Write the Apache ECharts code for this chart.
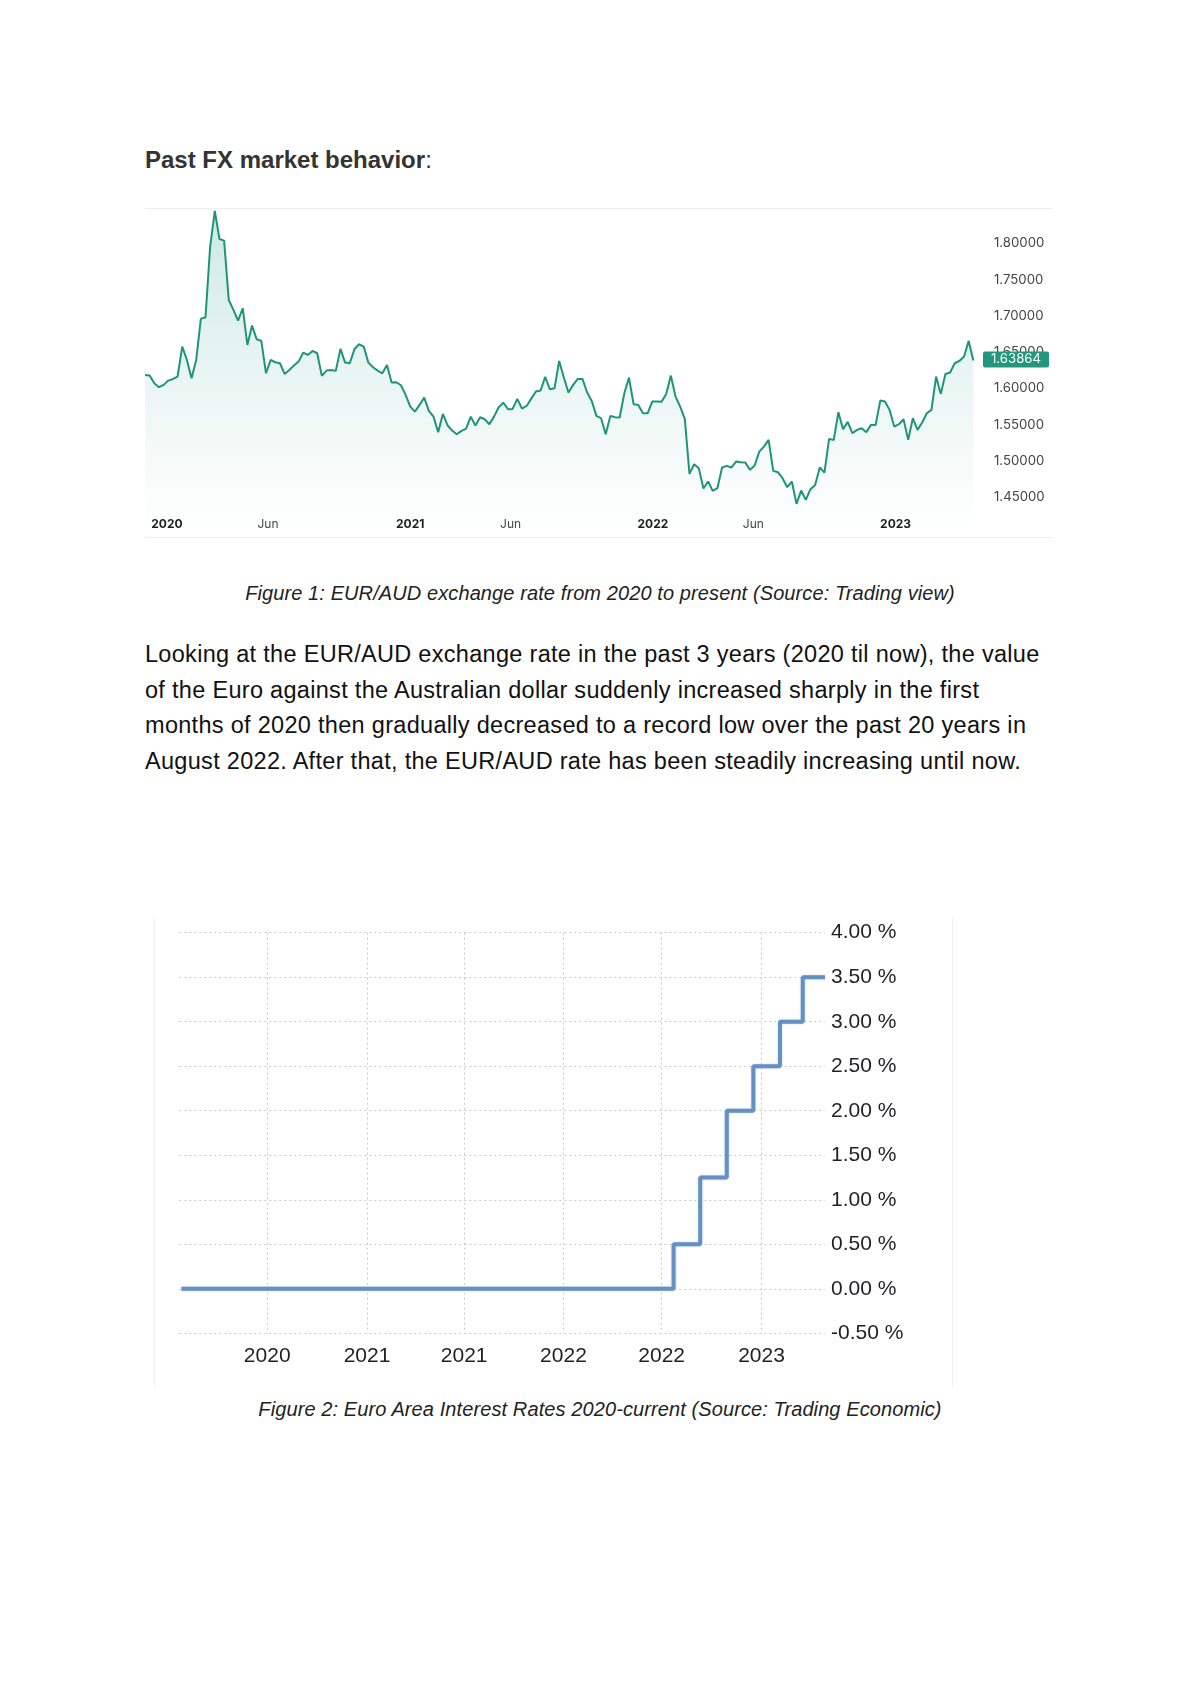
<!DOCTYPE html>
<html>
<head>
<meta charset="utf-8">
<script src="https://cdn.jsdelivr.net/npm/echarts@6/dist/echarts.min.js"></script>
<style>
  html, body { margin:0; padding:0; background:#fff; }
  body { width:1200px; height:1697px; position:relative; overflow:hidden; font-family:'Liberation Sans', Arial, sans-serif; }
  .t { position:absolute; white-space:nowrap; }
  #title { left:145px; top:146px; font-size:24px; line-height:28px; font-weight:bold; color:#333; }
  #title span { font-weight:normal; }
  .cap { left:0; width:1200px; text-align:center; font-style:italic; font-size:20px; line-height:24px; letter-spacing:0.1px; color:#222; }
  #cap1 { top:581px; }
  #cap2 { top:1397px; }
  #para { left:145px; top:637px; font-size:23.5px; line-height:35.7px; letter-spacing:0.3px; color:#111; }
  #c1 { position:absolute; left:145px; top:200px; width:908px; height:345px; }
  .hb { position:absolute; left:145px; width:908px; height:1px; background:#eceef1; }
  #c2 { position:absolute; left:154px; top:918px; width:798px; height:470px; }
  .vb { position:absolute; top:917px; width:1px; height:471px; background:#f1f1f1; }
</style>
</head>
<body>
<div id="title" class="t">Past FX market behavior<span>:</span></div>
<div class="hb" style="top:208px"></div>
<div class="hb" style="top:537px"></div>
<div id="c1"></div>
<div id="cap1" class="t cap">Figure 1: EUR/AUD exchange rate from 2020 to present (Source: Trading view)</div>
<div id="para" class="t">Looking at the EUR/AUD exchange rate in the past 3 years (2020 til now), the value<br>of the Euro against the Australian dollar suddenly increased sharply in the first<br>months of 2020 then gradually decreased to a record low over the past 20 years in<br>August 2022. After that, the EUR/AUD rate has been steadily increasing until now.</div>
<div class="vb" style="left:154px"></div>
<div class="vb" style="left:952px"></div>
<div id="c2"></div>
<div id="cap2" class="t cap">Figure 2: Euro Area Interest Rates 2020-current (Source: Trading Economic)</div>

<script>
// ---------- Figure 1 data: EUR/AUD weekly closes ----------
const fxDates = [
 '2019-11-29','2019-12-06','2019-12-13','2019-12-20','2019-12-27',
 '2020-01-03','2020-01-10','2020-01-17','2020-01-24','2020-01-31','2020-02-07','2020-02-14','2020-02-21','2020-02-28',
 '2020-03-06','2020-03-13','2020-03-20','2020-03-27','2020-04-03','2020-04-10','2020-04-17','2020-04-24','2020-05-01',
 '2020-05-08','2020-05-15','2020-05-22','2020-05-29','2020-06-05','2020-06-12','2020-06-19','2020-06-26','2020-07-03',
 '2020-07-10','2020-07-17','2020-07-24','2020-07-31','2020-08-07','2020-08-14','2020-08-21','2020-08-28','2020-09-04',
 '2020-09-11','2020-09-18','2020-09-25','2020-10-02','2020-10-09','2020-10-16','2020-10-23','2020-10-30','2020-11-06',
 '2020-11-13','2020-11-20','2020-11-27','2020-12-04','2020-12-11','2020-12-18','2020-12-25',
 '2021-01-01','2021-01-08','2021-01-15','2021-01-22','2021-01-29','2021-02-05','2021-02-12','2021-02-19','2021-02-26',
 '2021-03-05','2021-03-12','2021-03-19','2021-03-26','2021-04-02','2021-04-09','2021-04-16','2021-04-23','2021-04-30',
 '2021-05-07','2021-05-14','2021-05-21','2021-05-28','2021-06-04','2021-06-11','2021-06-18','2021-06-25','2021-07-02',
 '2021-07-09','2021-07-16','2021-07-23','2021-07-30','2021-08-06','2021-08-13','2021-08-20','2021-08-27','2021-09-03',
 '2021-09-10','2021-09-17','2021-09-24','2021-10-01','2021-10-08','2021-10-15','2021-10-22','2021-10-29','2021-11-05',
 '2021-11-12','2021-11-19','2021-11-26','2021-12-03','2021-12-10','2021-12-17','2021-12-24','2021-12-31',
 '2022-01-07','2022-01-14','2022-01-21','2022-01-28','2022-02-04','2022-02-11','2022-02-18','2022-02-25','2022-03-04',
 '2022-03-11','2022-03-18','2022-03-25','2022-04-01','2022-04-08','2022-04-15','2022-04-22','2022-04-29','2022-05-06',
 '2022-05-13','2022-05-20','2022-05-27','2022-06-03','2022-06-10','2022-06-17','2022-06-24','2022-07-01','2022-07-08',
 '2022-07-15','2022-07-22','2022-07-29','2022-08-05','2022-08-12','2022-08-19','2022-08-26','2022-09-02','2022-09-09',
 '2022-09-16','2022-09-23','2022-09-30','2022-10-07','2022-10-14','2022-10-21','2022-10-28','2022-11-04','2022-11-11',
 '2022-11-18','2022-11-25','2022-12-02','2022-12-09','2022-12-16','2022-12-23','2022-12-30',
 '2023-01-06','2023-01-13','2023-01-20','2023-01-27','2023-02-03','2023-02-10','2023-02-17','2023-02-24','2023-03-03',
 '2023-03-10','2023-03-17','2023-03-24','2023-03-31','2023-04-07','2023-04-14','2023-04-21','2023-04-28'
];
const fxRates = [
 1.6187,1.6177,1.6072,1.6017,1.6049,
 1.6108,1.6131,1.6163,1.6577,1.6393,1.6140,1.6393,1.6958,1.6981,
 1.7954,1.8445,1.8060,1.8037,1.7219,1.7082,1.6935,1.7105,1.6600,
 1.6866,1.6678,1.6655,1.6209,1.6393,1.6361,1.6347,1.6200,1.6255,
 1.6315,1.6370,1.6494,1.6462,1.6517,1.6485,1.6173,1.6246,1.6255,
 1.6242,1.6545,1.6356,1.6347,1.6540,1.6609,1.6577,1.6356,1.6292,
 1.6246,1.6209,1.6324,1.6081,1.6085,1.6044,1.5911,
 1.5750,1.5681,1.5773,1.5874,1.5691,1.5612,1.5397,1.5649,1.5493,
 1.5420,1.5369,1.5415,1.5447,1.5612,1.5489,1.5603,1.5576,1.5507,
 1.5612,1.5741,1.5805,1.5713,1.5718,1.5856,1.5723,1.5759,1.5860,
 1.5957,1.5971,1.6159,1.5989,1.6003,1.6379,1.6150,1.5943,1.6049,
 1.6131,1.6131,1.5948,1.5828,1.5622,1.5590,1.5369,1.5622,1.5603,
 1.5599,1.5934,1.6150,1.5782,1.5773,1.5658,1.5658,1.5819,
 1.5819,1.5815,1.5925,1.6177,1.5888,1.5750,1.5580,1.4823,1.4956,
 1.4901,1.4621,1.4717,1.4589,1.4625,1.4910,1.4933,1.4910,1.4993,
 1.4984,1.4979,1.4878,1.4938,1.5130,1.5199,1.5291,1.4864,1.4846,
 1.4763,1.4639,1.4717,1.4410,1.4593,1.4465,1.4612,1.4671,1.4910,
 1.4841,1.5305,1.5291,1.5672,1.5438,1.5539,1.5383,1.5429,1.5452,
 1.5397,1.5498,1.5498,1.5833,1.5819,1.5704,1.5475,
 1.5507,1.5576,1.5291,1.5590,1.5429,1.5530,1.5658,1.5704,1.6163,
 1.5925,1.6200,1.6219,1.6347,1.6379,1.6439,1.6655,1.63864
];
const fxTickDates = ['2020-01-01','2020-06-01','2021-01-01','2021-06-01','2022-01-01','2022-06-01','2023-01-01'];
const fxTickLabels = ['2020','Jun','2021','Jun','2022','Jun','2023'];
const fxAxisRange = ['2019-11-29','2023-05-05'];

// ---------- Figure 2 data: Euro area interest rate ----------
const rateDates  = ['2020-02-01','2022-07-27','2022-09-14','2022-11-02','2022-12-21','2023-02-08','2023-03-22','2023-05-02'];
const rateValues = [0, 0.5, 1.25, 2.0, 2.5, 3.0, 3.5, 3.5];
const rateTickDates  = ['2020-07-08','2021-01-08','2021-07-06','2022-01-05','2022-07-05','2023-01-05'];
const rateTickLabels = ['2020','2021','2021','2022','2022','2023'];
const rateAxisRange = ['2020-01-28','2023-05-02'];

function ts(s) { const p = s.split('-').map(Number); return Date.UTC(p[0], p[1] - 1, p[2]); }

// ---------- Chart 1 ----------
const c1 = echarts.init(document.getElementById('c1'), null, {renderer: 'canvas'});
const fxTickTs = fxTickDates.map(ts);
const lastRate = fxRates[fxRates.length - 1];
c1.setOption({
  animation: false,
  grid: { left: 0, top: 7, width: 833, height: 326.6, containLabel: false },
  xAxis: {
    type: 'value',
    min: ts(fxAxisRange[0]), max: ts(fxAxisRange[1]),
    axisLine: { show: false }, axisTick: { show: false }, splitLine: { show: false },
    axisLabel: {
      inside: true, margin: 3,
      customValues: fxTickTs,
      fontFamily: 'Inter', fontSize: 12, color: '#444',
      formatter: function (v) {
        const i = fxTickTs.indexOf(v);
        const lab = i >= 0 ? fxTickLabels[i] : '';
        return /^\d{4}$/.test(lab) ? '{b|' + lab + '}' : lab;
      },
      rich: { b: { fontFamily: 'Inter', fontSize: 12, fontWeight: 'bold', color: '#1e1e1e' } }
    }
  },
  yAxis: {
    type: 'value', position: 'right',
    min: 1.40, max: 1.85, interval: 0.05,
    axisLine: { show: false }, axisTick: { show: false }, splitLine: { show: false },
    axisLabel: {
      margin: 16, showMinLabel: false, showMaxLabel: false,
      fontFamily: 'Inter', fontSize: 13.2, color: '#444',
      formatter: v => v.toFixed(5)
    }
  },
  series: [{
    type: 'line',
    data: fxDates.map((d, i) => [ts(d), fxRates[i]]),
    showSymbol: false,
    lineStyle: { color: '#1f9577', width: 2 },
    itemStyle: { color: '#1f9577' },
    areaStyle: {
      origin: 'start',
      color: new echarts.graphic.LinearGradient(0, 0, 0, 1, [
        { offset: 0, color: 'rgba(40,160,130,0.32)' },
        { offset: 0.55, color: 'rgba(40,160,130,0.13)' },
        { offset: 1, color: 'rgba(40,160,130,0.0)' }
      ])
    },
    markLine: {
      silent: true, symbol: 'none',
      lineStyle: { color: 'transparent', width: 0 },
      data: [{ yAxis: lastRate }],
      label: {
        position: 'end', distance: 5,
        formatter: () => lastRate.toFixed(5),
        backgroundColor: '#22977b', color: '#fff', borderRadius: 2,
        padding: [2, 8, 1, 8], fontFamily: 'Inter', fontSize: 13.2
      }
    }
  }]
});

// ---------- Chart 2 ----------
const c2 = echarts.init(document.getElementById('c2'), null, {renderer: 'canvas'});
const rateTickTs = rateTickDates.map(ts);
const dotted = { show: true, lineStyle: { color: '#c9c9c9', width: 1, type: [2, 3] } };
c2.setOption({
  animation: false,
  grid: { left: 25.3, top: 14.7, width: 645.7, height: 400.6, containLabel: false },
  xAxis: {
    type: 'value',
    min: ts(rateAxisRange[0]), max: ts(rateAxisRange[1]),
    axisLine: { show: false },
    axisTick: { show: false, customValues: rateTickTs },
    splitLine: dotted,
    axisLabel: {
      margin: 12, customValues: rateTickTs,
      fontFamily: 'Liberation Sans', fontSize: 21, color: '#1f1f28',
      formatter: function (v) { const i = rateTickTs.indexOf(v); return i >= 0 ? rateTickLabels[i] : ''; }
    }
  },
  yAxis: {
    type: 'value', position: 'right',
    min: -0.5, max: 4.0, interval: 0.5,
    axisLine: { show: false }, axisTick: { show: false },
    splitLine: dotted,
    axisLabel: {
      margin: 6, fontFamily: 'Liberation Sans', fontSize: 21, color: '#1f1f28',
      formatter: v => v.toFixed(2) + ' %'
    }
  },
  series: [{
    type: 'line', step: 'end',
    data: rateDates.map((d, i) => [ts(d), rateValues[i]]),
    showSymbol: false,
    lineStyle: { color: '#6690c3', width: 4, shadowColor: 'rgba(102,144,195,0.45)', shadowBlur: 2 }
  }]
});
</script>
</body>
</html>
